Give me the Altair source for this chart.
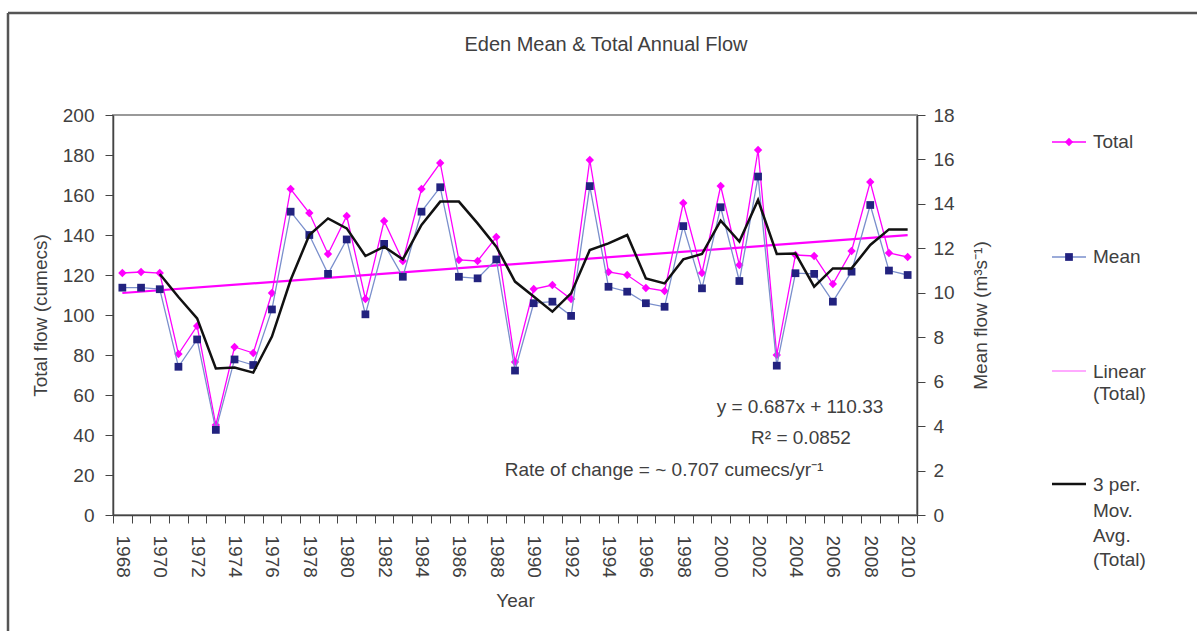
import altair as alt
import pandas as pd

years = list(range(1968, 2011))
total = [121, 121.5, 121, 80.5, 94.5, 45, 84, 81, 111, 163, 151, 130.5, 149.5, 108, 147,
         127, 163, 176, 127.5, 127, 139, 76.5, 113, 115, 108, 177.5, 121.5, 120, 113.5, 112,
         156, 121, 164.5, 125, 182.5, 80, 130, 129.5, 115.5, 132, 166.5, 131, 129]
mean = [10.23, 10.23, 10.16, 6.67, 7.9, 3.83, 7.0, 6.75, 9.25, 13.65, 12.6, 10.85, 12.4, 9.03, 12.2,
        10.72, 13.65, 14.75, 10.72, 10.65, 11.5, 6.5, 9.53, 9.6, 8.96, 14.8, 10.27, 10.05, 9.53, 9.37,
        13.0, 10.2, 13.85, 10.53, 15.23, 6.72, 10.88, 10.85, 9.6, 10.95, 13.95, 11.0, 10.8]
ma_years = list(range(1970, 2011))
ma = [120.5, 109, 98.3, 73.3, 73.7, 71.2, 89.2, 117.5, 140, 148.3, 143.3, 129.5, 134.2,
      127.8, 145, 156.7, 156.7, 145.8, 134.2, 116.7, 109.2, 101.7, 110.8, 132.5, 135.8, 140,
      118.3, 115.8, 127.8, 130.5, 147.2, 136.7, 157.5, 130.5, 130.8, 114.2, 123.3, 123.3,
      135, 142.8, 142.8]
trend_years = [1968, 2010]
trend = [111.0, 139.9]
left_ticks = list(range(0, 201, 20))
right_ticks = list(range(0, 19, 2))

FONT = "Liberation Sans"
TXT = "#404040"
MAG = "#ff00ff"
NAVY = "#22227f"
BLUELINE = "#7a8fcc"

df = pd.DataFrame({"year": years, "total": total, "mean": mean})
ma_df = pd.DataFrame({"year": ma_years, "ma": ma})
tr_df = pd.DataFrame({"year": trend_years, "trend": trend})

xenc = alt.X(
    "year:O",
    scale=alt.Scale(type="band", paddingInner=0, paddingOuter=0, domain=years),
    axis=alt.Axis(
        title="Year", labelAngle=90, labelExpr="datum.value % 2 == 0 ? datum.label : ''",
        tickBand="extent", tickSize=8, labelPadding=12, titlePadding=14,
        labelOverlap=False, grid=False, domainColor="#444", tickColor="#444",
        domainWidth=1.5, labelFontSize=19, titleFontSize=19, labelFont=FONT, titleFont=FONT,
        labelColor=TXT, titleColor=TXT, titleFontWeight="normal",
    ),
)

left_axis = alt.Axis(
    orient="left", title="Total flow (cumecs)", values=left_ticks, tickSize=8, labelPadding=11,
    titlePadding=12, grid=False, domainColor="#444", tickColor="#444", domainWidth=1.5,
    labelFontSize=19, titleFontSize=19, labelFont=FONT, titleFont=FONT,
    labelColor=TXT, titleColor=TXT, titleFontWeight="normal",
)
right_axis = alt.Axis(
    orient="right", title="Mean flow (m³s⁻¹)", values=right_ticks, tickSize=8, labelPadding=8,
    titlePadding=36, titleAngle=270, grid=False, domainColor="#444", tickColor="#444",
    domainWidth=1.5, labelFontSize=19, titleFontSize=19, labelFont=FONT, titleFont=FONT,
    labelColor=TXT, titleColor=TXT, titleFontWeight="normal",
)

trend_layer = alt.Chart(tr_df).mark_line(color=MAG, strokeWidth=2.2).encode(
    x=xenc, y=alt.Y("trend:Q", scale=alt.Scale(domain=[0, 200]), axis=left_axis)
)
total_layer = alt.Chart(df).mark_line(
    color=MAG, strokeWidth=1.3,
    point=alt.OverlayMarkDef(shape="diamond", filled=True, size=70, color=MAG),
).encode(x=xenc, y=alt.Y("total:Q", scale=alt.Scale(domain=[0, 200]), axis=None))
mean_layer = alt.Chart(df).mark_line(
    color=BLUELINE, strokeWidth=1.3,
    point=alt.OverlayMarkDef(shape="square", filled=True, size=60, color=NAVY),
).encode(x=xenc, y=alt.Y("mean:Q", scale=alt.Scale(domain=[0, 18]), axis=right_axis))
ma_layer = alt.Chart(ma_df).mark_line(color="#111111", strokeWidth=2.5).encode(
    x=xenc, y=alt.Y("ma:Q", scale=alt.Scale(domain=[0, 200]), axis=None)
)

one = alt.Data(values=[{"a": 1}])


def text(t, x, y, size=19, align="center"):
    return alt.Chart(one).mark_text(
        font=FONT, fontSize=size, color=TXT, align=align, baseline="middle"
    ).encode(x=alt.value(x), y=alt.value(y), text=alt.value(t))


def hline(x1, x2, y, color, w):
    return alt.Chart(one).mark_rule(color=color, strokeWidth=w).encode(
        x=alt.value(x1), x2=alt.value(x2), y=alt.value(y)
    )


def sym(x, y, shape, color, size):
    return alt.Chart(one).mark_point(shape=shape, filled=True, size=size, color=color, opacity=1).encode(
        x=alt.value(x), y=alt.value(y)
    )


frame_top = hline(-105, 1084, -102, "#555555", 2.5)
frame_left = alt.Chart(one).mark_rule(color="#555555", strokeWidth=2.5).encode(
    x=alt.value(-105), y=alt.value(-102), y2=alt.value(520)
)

deco = [
    frame_top, frame_left,
    text("Eden Mean & Total Annual Flow", 493, -70, size=20),
    text("y = 0.687x + 110.33", 687, 292),
    text("R² = 0.0852", 688, 323),
    text("Rate of change = ~ 0.707 cumecs/yr⁻¹", 551, 355),
    # legend
    hline(939, 973, 27, MAG, 1.5), sym(956, 27, "diamond", MAG, 70), text("Total", 980, 27, align="left"),
    hline(939, 973, 142, BLUELINE, 1.5), sym(956, 142, "square", NAVY, 60), text("Mean", 980, 142, align="left"),
    hline(939, 973, 256, "#ffaaff", 2), text("Linear", 980, 257, align="left"), text("(Total)", 980, 279, align="left"),
    hline(939, 973, 369, "#111111", 2.5),
    text("3 per.", 980, 370, align="left"), text("Mov.", 980, 396, align="left"),
    text("Avg.", 980, 421, align="left"), text("(Total)", 980, 445, align="left"),
]

chart = alt.layer(trend_layer, total_layer, mean_layer, ma_layer, *deco).resolve_scale(
    y="independent"
).properties(
    width=804, height=400,
    autosize=alt.AutoSizeParams(type="none"),
    padding={"left": 113, "top": 115, "right": 280, "bottom": 116},
    background="white",
).configure_view(stroke="#999999", strokeWidth=2)

chart.save("out.html", embed_options={"renderer": "svg", "actions": False})
